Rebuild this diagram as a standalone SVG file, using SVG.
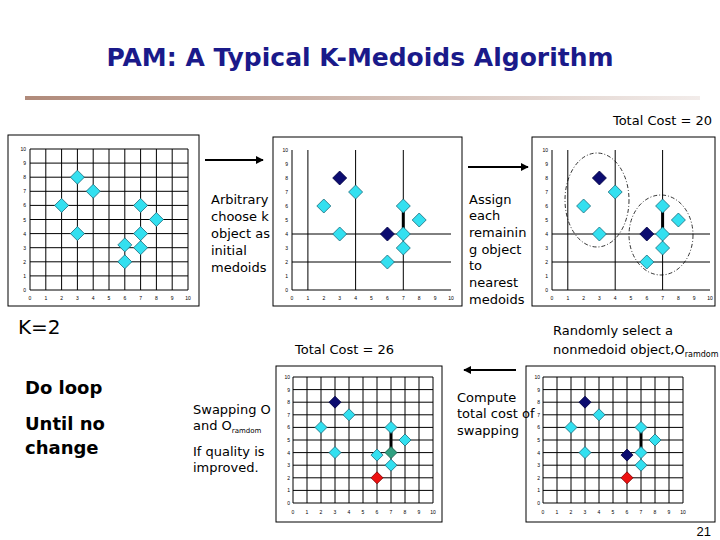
<svg xmlns="http://www.w3.org/2000/svg" width="720" height="540" viewBox="0 0 720 540">
<defs>
<linearGradient id="lg" x1="0" x2="1"><stop offset="0" stop-color="#b08a7a"/><stop offset="1" stop-color="#f2ecea"/></linearGradient>
<path id="dc" d="M0,-7 L7,0 L0,7 L-7,0Z" fill="#33e0f0" stroke="#1a6a7a" stroke-width="0.8"/>
<path id="dd" d="M0,-7 L7,0 L0,7 L-7,0Z" fill="#0c0c70" stroke="#000040" stroke-width="0.8"/>
<path id="sc" d="M0,-6 L6,0 L0,6 L-6,0Z" fill="#33e0f0" stroke="#1a6a7a" stroke-width="0.8"/>
<path id="sd" d="M0,-6 L6,0 L0,6 L-6,0Z" fill="#0c0c70" stroke="#000040" stroke-width="0.8"/>
<path id="sr" d="M0,-6 L6,0 L0,6 L-6,0Z" fill="#ee1010" stroke="#800000" stroke-width="0.8"/>
<path id="sg" d="M0,-6 L6,0 L0,6 L-6,0Z" fill="#30a080" stroke="#105040" stroke-width="0.8"/>
<marker id="ah" viewBox="0 0 10 10" refX="9" refY="5" markerWidth="4" markerHeight="4" orient="auto"><path d="M0,0 L10,5 L0,10Z" fill="#000"/></marker>
</defs>
<style>
.box{fill:#fff;stroke:#000;stroke-width:1}
.g{stroke:#000;stroke-width:1;fill:none}
.tk{font-family:"Liberation Sans",sans-serif;font-size:5px;fill:#000;text-anchor:middle}
.tky{font-family:"Liberation Sans",sans-serif;font-size:5px;fill:#000;text-anchor:end}
.t{font-family:"DejaVu Sans",sans-serif;font-size:13px;fill:#000}
.thick{stroke:#000;stroke-width:3}
</style>
<rect width="720" height="540" fill="#fff"/>
<text x="360" y="66" text-anchor="middle" font-family="'DejaVu Sans',sans-serif" font-weight="bold" font-size="25" fill="#1a1a8a">PAM: A Typical K-Medoids Algorithm</text>
<rect x="25" y="96" width="675" height="4" fill="url(#lg)"/>
<text x="712" y="125" text-anchor="end" class="t">Total Cost = 20</text>

<g id="chart1">
<rect class="box" x="8" y="135" width="191" height="171"/>
<path class="g" d="M30,149V290M45.8,149V290M61.6,149V290M77.4,149V290M93.2,149V290M109,149V290M124.8,149V290M140.6,149V290M156.4,149V290M172.2,149V290M188,149V290M30,290H188M30,275.9H188M30,261.8H188M30,247.7H188M30,233.6H188M30,219.5H188M30,205.4H188M30,191.3H188M30,177.2H188M30,163.1H188M30,149H188"/>
<text class="tk" x="30 45.8 61.6 77.4 93.2 109 124.8 140.6 156.4 172.2 186.6 189.4" y="300">012345678910</text>
<text class="tky" x="26 26 26 26 26 26 26 26 26 26" y="292 277.9 263.8 249.7 235.6 221.5 207.4 193.3 179.2 165.1">0123456789</text>
<text class="tky" x="26" y="151">10</text>
<use href="#dc" x="77.4" y="177.2"/><use href="#dc" x="93.2" y="191.3"/><use href="#dc" x="61.6" y="205.4"/><use href="#dc" x="140.6" y="205.4"/><use href="#dc" x="156.4" y="219.5"/><use href="#dc" x="77.4" y="233.6"/><use href="#dc" x="140.6" y="233.6"/><use href="#dc" x="124.8" y="244.9"/><use href="#dc" x="140.6" y="247.7"/><use href="#dc" x="124.8" y="261.8"/>
</g>

<g id="chart2">
<rect class="box" x="273" y="137" width="189" height="169"/>
<path class="g" d="M292,150V290H451M307.9,150V290M355.6,150V290M403.3,150V290M292,234H451M292,262H451"/>
<path class="thick" d="M403.3,206V234"/>
<text class="tk" x="292 307.9 323.8 339.7 355.6 371.5 387.4 403.3 419.2 435.1 449.6 452.4" y="300">012345678910</text>
<text class="tky" x="288 288 288 288 288 288 288 288 288 288" y="292 278 264 250 236 222 208 194 180 166">0123456789</text>
<text class="tky" x="288" y="152">10</text>
<use href="#dd" x="339.7" y="178"/><use href="#dc" x="355.6" y="192"/><use href="#dc" x="323.8" y="206"/><use href="#dc" x="403.3" y="206"/><use href="#dc" x="419.2" y="220"/><use href="#dc" x="339.7" y="234"/><use href="#dd" x="387.4" y="234"/><use href="#dc" x="403.3" y="234"/><use href="#dc" x="403.3" y="248"/><use href="#dc" x="387.4" y="262"/>
</g>

<g id="chart3">
<rect class="box" x="532" y="137" width="183" height="169"/>
<path class="g" d="M552,150V290H710M567.8,150V290M615.2,150V290M662.6,150V290M552,234H710M552,262H710"/>
<path class="thick" d="M662.6,206V234"/>
<text class="tk" x="552 567.8 583.6 599.4 615.2 631 646.8 662.6 678.4 694.2 708.6 711.4" y="300">012345678910</text>
<text class="tky" x="548 548 548 548 548 548 548 548 548 548" y="292 278 264 250 236 222 208 194 180 166">0123456789</text>
<text class="tky" x="548" y="152">10</text>
<ellipse cx="597" cy="200" rx="32" ry="47" fill="none" stroke="#000" stroke-width="0.8" stroke-dasharray="4,2,1,2"/>
<ellipse cx="661" cy="235" rx="32" ry="40" fill="none" stroke="#000" stroke-width="0.8" stroke-dasharray="4,2,1,2"/>
<use href="#dd" x="599.4" y="178"/><use href="#dc" x="615.2" y="192"/><use href="#dc" x="583.6" y="206"/><use href="#dc" x="662.6" y="206"/><use href="#dc" x="678.4" y="220"/><use href="#dc" x="599.4" y="234"/><use href="#dd" x="646.8" y="234"/><use href="#dc" x="662.6" y="234"/><use href="#dc" x="662.6" y="248"/><use href="#dc" x="646.8" y="262"/>
</g>

<g id="chart4">
<rect class="box" x="276" y="366" width="166" height="156"/>
<path class="g" d="M293,377V503M307,377V503M321,377V503M335,377V503M349,377V503M363,377V503M377,377V503M391,377V503M405,377V503M419,377V503M433,377V503M293,503H433M293,490.4H433M293,477.8H433M293,465.2H433M293,452.6H433M293,440H433M293,427.4H433M293,414.8H433M293,402.2H433M293,389.6H433M293,377H433"/>
<path class="thick" d="M391,427.4V452.6"/>
<text class="tk" x="293 307 321 335 349 363 377 391 405 419 431.6 434.4" y="514">012345678910</text>
<text class="tky" x="290 290 290 290 290 290 290 290 290 290" y="505 492.4 479.8 467.2 454.6 442 429.4 416.8 404.2 391.6">0123456789</text>
<text class="tky" x="290" y="379">10</text>
<use href="#sd" x="335" y="402.2"/><use href="#sc" x="349" y="414.8"/><use href="#sc" x="321" y="427.4"/><use href="#sc" x="391" y="427.4"/><use href="#sc" x="405" y="440"/><use href="#sc" x="335" y="452.6"/><use href="#sc" x="377" y="455.1"/><use href="#sg" x="391" y="452.6"/><use href="#sc" x="391" y="465.2"/><use href="#sr" x="377" y="477.8"/>
</g>

<g id="chart5">
<rect class="box" x="526" y="366" width="189" height="156"/>
<path class="g" d="M543,377V503M557,377V503M571,377V503M585,377V503M599,377V503M613,377V503M627,377V503M641,377V503M655,377V503M669,377V503M683,377V503M543,503H683M543,490.4H683M543,477.8H683M543,465.2H683M543,452.6H683M543,440H683M543,427.4H683M543,414.8H683M543,402.2H683M543,389.6H683M543,377H683"/>
<path class="thick" d="M641,427.4V452.6"/>
<text class="tk" x="543 557 571 585 599 613 627 641 655 669 681.6 684.4" y="514">012345678910</text>
<text class="tky" x="540 540 540 540 540 540 540 540 540 540" y="505 492.4 479.8 467.2 454.6 442 429.4 416.8 404.2 391.6">0123456789</text>
<text class="tky" x="540" y="379">10</text>
<use href="#sd" x="585" y="402.2"/><use href="#sc" x="599" y="414.8"/><use href="#sc" x="571" y="427.4"/><use href="#sc" x="641" y="427.4"/><use href="#sc" x="655" y="440"/><use href="#sc" x="585" y="452.6"/><use href="#sd" x="627" y="455.1"/><use href="#sc" x="641" y="452.6"/><use href="#sc" x="641" y="465.2"/><use href="#sr" x="627" y="477.8"/>
</g>

<g id="connectors">
<path d="M205,160H263" stroke="#000" stroke-width="2" marker-end="url(#ah)"/>
<path d="M468,167H528" stroke="#000" stroke-width="2" marker-end="url(#ah)"/>
<path d="M516,370H464" stroke="#000" stroke-width="2" marker-end="url(#ah)"/>
</g>

<g id="labels">
<text class="t"><tspan x="211" y="204">Arbitrary</tspan><tspan x="211" y="221">choose k</tspan><tspan x="211" y="238">object as</tspan><tspan x="211" y="255">initial</tspan><tspan x="211" y="272">medoids</tspan></text>
<text class="t"><tspan x="469" y="204">Assign</tspan><tspan x="469" y="220">each</tspan><tspan x="469" y="237">remainin</tspan><tspan x="469" y="254">g object</tspan><tspan x="469" y="270">to</tspan><tspan x="469" y="287">nearest</tspan><tspan x="469" y="304">medoids</tspan></text>
<text x="18" y="334" font-family="'DejaVu Sans',sans-serif" font-size="20">K=2</text>
<text x="295" y="354" class="t">Total Cost = 26</text>
<text class="t" x="553" y="335">Randomly select a</text>
<text class="t" x="553" y="354">nonmedoid object,O<tspan font-size="8" dy="3">ramdom</tspan></text>
<text font-family="'DejaVu Sans',sans-serif" font-weight="bold" font-size="18" fill="#000"><tspan x="25" y="394">Do loop</tspan><tspan x="25" y="430">Until no</tspan><tspan x="25" y="454">change</tspan></text>
<text class="t"><tspan x="457" y="402">Compute</tspan><tspan x="457" y="418">total cost of</tspan><tspan x="457" y="435">swapping</tspan></text>
<text class="t" font-size="12"><tspan x="193" y="414">Swapping O</tspan><tspan x="193" y="430">and O</tspan><tspan font-size="7" dy="3">ramdom</tspan></text>
<text class="t" font-size="12"><tspan x="193" y="456">If quality is</tspan><tspan x="193" y="472">improved.</tspan></text>
<text x="711" y="536" text-anchor="end" font-family="'Liberation Sans',sans-serif" font-size="13">21</text>
</g>
</svg>
